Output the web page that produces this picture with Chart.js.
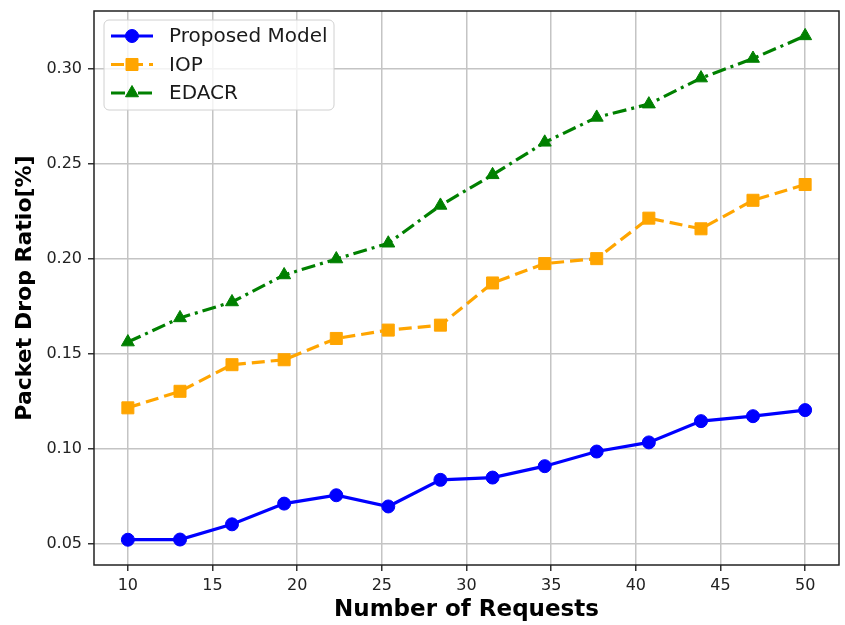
<!DOCTYPE html>
<html>
<head>
<meta charset="utf-8">
<script src="https://cdn.jsdelivr.net/npm/chart.js@4/dist/chart.umd.min.js"></script>
<style>
  html, body { margin: 0; padding: 0; background: #ffffff; }
  #wrap { width: 845px; height: 625px; }
</style>
</head>
<body>
<div id="wrap"><canvas id="c" width="845" height="625"></canvas></div>
<script>
// Number of requests (x positions of the samples)
const requests = [10, 13.08, 16.15, 19.23, 22.31, 25.38, 28.46, 31.54, 34.62, 37.69, 40.77, 43.85, 46.92, 50];

// Packet drop ratio per method
const proposedModel = [0.0521, 0.0522, 0.0602, 0.0711, 0.0755, 0.0696, 0.0836, 0.0848, 0.0908, 0.0985, 0.1033, 0.1145, 0.1171, 0.1203];
const iop           = [0.1215, 0.1302, 0.1442, 0.1468, 0.1580, 0.1624, 0.1650, 0.1872, 0.1974, 0.2000, 0.2213, 0.2157, 0.2307, 0.2390];
const edacr         = [0.1561, 0.1688, 0.1772, 0.1914, 0.1998, 0.2081, 0.2280, 0.2441, 0.2612, 0.2743, 0.2813, 0.2950, 0.3053, 0.3172];

const seriesNames = ['Proposed Model', 'IOP', 'EDACR'];

// Axis ticks
const xTicks = [10, 15, 20, 25, 30, 35, 40, 45, 50];
const yTicks = [0.05, 0.10, 0.15, 0.20, 0.25, 0.30];

const toPoints = (ys) => ys.map((y, i) => ({ x: requests[i], y: y }));

// Frame around the plotting area
const framePlugin = {
  id: 'frame',
  afterDraw(chart) {
    const { ctx, chartArea: a } = chart;
    ctx.save();
    ctx.strokeStyle = '#222222';
    ctx.lineWidth = 1.5;
    ctx.strokeRect(a.left, a.top, a.right - a.left, a.bottom - a.top);
    ctx.restore();
  }
};

// Legend box with line + marker samples, drawn in the upper left corner
const legendPlugin = {
  id: 'lineLegend',
  afterDraw(chart) {
    const { ctx, chartArea: a } = chart;
    const bx = a.left + 10, by = a.top + 9, bw = 230, bh = 90, r = 5;
    ctx.save();
    ctx.beginPath();
    ctx.moveTo(bx + r, by);
    ctx.arcTo(bx + bw, by, bx + bw, by + bh, r);
    ctx.arcTo(bx + bw, by + bh, bx, by + bh, r);
    ctx.arcTo(bx, by + bh, bx, by, r);
    ctx.arcTo(bx, by, bx + bw, by, r);
    ctx.closePath();
    ctx.fillStyle = 'rgba(255,255,255,0.8)';
    ctx.fill();
    ctx.strokeStyle = '#d0d0d0';
    ctx.lineWidth = 1;
    ctx.stroke();

    chart.data.datasets.forEach((ds, i) => {
      const y = by + 16 + i * 28.5;
      const x0 = bx + 7, x1 = bx + 49, xm = (x0 + x1) / 2;
      ctx.beginPath();
      ctx.setLineDash(ds.borderDash || []);
      ctx.strokeStyle = ds.borderColor;
      ctx.lineWidth = ds.borderWidth;
      ctx.moveTo(x0, y);
      ctx.lineTo(x1, y);
      ctx.stroke();
      ctx.setLineDash([]);
      ctx.fillStyle = ds.pointBackgroundColor;
      ctx.strokeStyle = ds.pointBorderColor;
      ctx.lineWidth = 1;
      Chart.helpers.drawPoint(ctx, {
        pointStyle: ds.pointStyle,
        radius: ds.pointRadius,
        rotation: 0,
        borderWidth: 1
      }, xm, y);
      ctx.fillStyle = '#1a1a1a';
      ctx.font = '20px "DejaVu Sans"';
      ctx.textBaseline = 'middle';
      ctx.textAlign = 'left';
      ctx.fillText(ds.label, bx + 65, y + 1);
    });
    ctx.restore();
  }
};

const chart = new Chart(document.getElementById('c'), {
  type: 'line',
  data: {
    datasets: [
      {
        label: seriesNames[0],
        data: toPoints(proposedModel),
        borderColor: '#0000ff',
        backgroundColor: '#0000ff',
        pointBackgroundColor: '#0000ff',
        pointBorderColor: '#0000ff',
        borderWidth: 3.2,
        pointStyle: 'circle',
        pointRadius: 6.5,
        pointBorderWidth: 1
      },
      {
        label: seriesNames[1],
        data: toPoints(iop),
        borderColor: '#ffa500',
        backgroundColor: '#ffa500',
        pointBackgroundColor: '#ffa500',
        pointBorderColor: '#ffa500',
        borderWidth: 3.2,
        borderDash: [13, 6],
        pointStyle: 'rect',
        pointRadius: 8.5,
        pointBorderWidth: 1
      },
      {
        label: seriesNames[2],
        data: toPoints(edacr),
        borderColor: '#008000',
        backgroundColor: '#008000',
        pointBackgroundColor: '#008000',
        pointBorderColor: '#008000',
        borderWidth: 3.2,
        borderDash: [14, 5, 3, 5],
        pointStyle: 'triangle',
        pointRadius: 7.5,
        pointBorderWidth: 1
      }
    ]
  },
  options: {
    responsive: false,
    animation: false,
    events: [],
    layout: { autoPadding: false, padding: { left: 0, right: 6, top: 11, bottom: 0 } },
    plugins: {
      legend: { display: false },
      tooltip: { enabled: false }
    },
    elements: { line: { tension: 0 } },
    scales: {
      x: {
        type: 'linear',
        min: 8,
        max: 52,
        afterBuildTicks(scale) { scale.ticks = xTicks.map(v => ({ value: v })); },
        afterFit(scale) {
          scale.height = 60;
          scale.paddingLeft = 0;
          scale.paddingRight = 0;
        },
        grid: { color: '#c4c4c4', lineWidth: 1.5, tickColor: '#333333', tickLength: 6, tickWidth: 1.5 },
        border: { display: false },
        ticks: {
          color: '#222222',
          padding: 5,
          maxRotation: 0,
          font: { family: '"DejaVu Sans"', size: 16 },
          callback: (v) => String(v)
        },
        title: {
          display: true,
          text: 'Number of Requests',
          color: '#000000',
          font: { family: '"DejaVu Sans"', size: 23, weight: 'bold' },
          padding: { top: 0, bottom: 1 }
        }
      },
      y: {
        type: 'linear',
        min: 0.0388,
        max: 0.3303,
        afterBuildTicks(scale) { scale.ticks = yTicks.map(v => ({ value: v })); },
        afterFit(scale) {
          scale.width = 94;
          scale.paddingTop = 0;
          scale.paddingBottom = 0;
        },
        grid: { color: '#c4c4c4', lineWidth: 1.5, tickColor: '#333333', tickLength: 6, tickWidth: 1.5 },
        border: { display: false },
        ticks: {
          color: '#222222',
          padding: 6,
          font: { family: '"DejaVu Sans"', size: 16 },
          callback: (v) => Number(v).toFixed(2)
        },
        title: {
          display: true,
          text: 'Packet Drop Ratio[%]',
          color: '#000000',
          font: { family: '"DejaVu Sans"', size: 22, weight: 'bold' },
          padding: { top: 12, bottom: 0 }
        }
      }
    }
  },
  plugins: [framePlugin, legendPlugin]
});
</script>
</body>
</html>
